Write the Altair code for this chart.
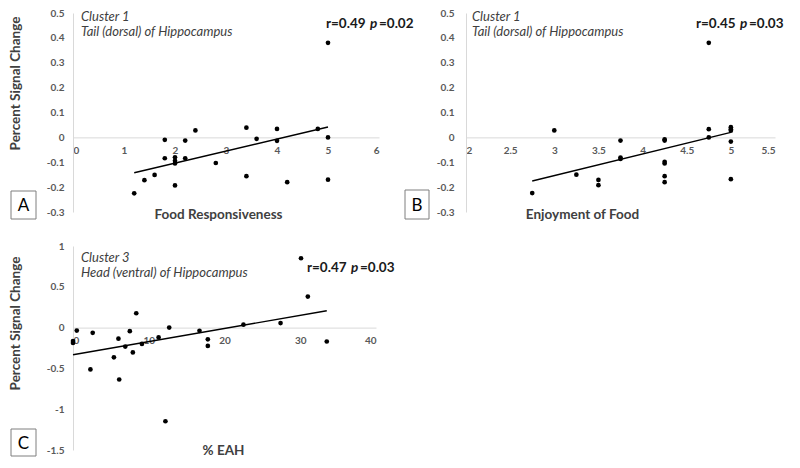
import altair as alt
import pandas as pd

# ---------------- data ----------------
food_resp = [5.0, 1.8, 2.2, 2.4, 3.4, 3.6, 4.0, 4.0, 4.8, 5.0, 1.8, 2.0, 2.0, 2.0, 2.2, 2.8, 1.4, 1.6, 1.2, 2.0, 3.4, 4.2, 5.0]
psc_a = [0.38, -0.01, -0.013, 0.028, 0.039, -0.006, 0.034, -0.014, 0.034, 0.0, -0.084, -0.08, -0.094, -0.105, -0.084, -0.103, -0.172, -0.151, -0.225, -0.193, -0.156, -0.18, -0.17]

enjoy_food = [4.75, 3.0, 4.75, 4.75, 5.0, 5.0, 5.0, 5.0, 3.75, 4.25, 4.25, 3.75, 3.75, 4.25, 4.25, 3.25, 3.5, 3.5, 4.25, 4.25, 2.75, 5.0]
psc_b = [0.38, 0.028, 0.033, 0.0, 0.041, 0.033, 0.027, -0.017, -0.013, -0.008, -0.013, -0.081, -0.087, -0.098, -0.105, -0.15, -0.171, -0.192, -0.156, -0.18, -0.224, -0.168]

eah = [30.1, 31.0, 33.5, 27.4, 22.5, 16.7, 17.8, 17.8, 12.7, 11.3, 9.1, 8.35, 7.9, 7.5, 6.9, 6.0, 5.4, 6.1, 2.3, 2.6, 0.5, 0.0, 0.0, 12.2]
psc_c = [0.85, 0.38, -0.17, 0.056, 0.036, -0.04, -0.144, -0.224, 0.0, -0.12, -0.2, 0.176, -0.304, -0.044, -0.232, -0.136, -0.364, -0.636, -0.512, -0.064, -0.036, -0.164, -0.188, -1.148]

ticks_a_x = [0, 1, 2, 3, 4, 5, 6]
ticks_b_x = [2, 2.5, 3, 3.5, 4, 4.5, 5, 5.5]
ticks_ab_y = [-0.3, -0.2, -0.1, 0, 0.1, 0.2, 0.3, 0.4, 0.5]
ticks_c_x = [0, 10, 20, 30, 40]
ticks_c_y = [-1.5, -1, -0.5, 0, 0.5, 1]

FONT = "Lato"
one = pd.DataFrame({"a": [0]})


def txt(text, x, y, size=13, weight="normal", style="normal", color="#404040", align="left"):
    return alt.Chart(one).mark_text(
        text=text, font=FONT, fontSize=size, fontWeight=weight, fontStyle=style,
        color=color, align=align, baseline="middle"
    ).encode(x=alt.value(x), y=alt.value(y))


def panel(xs, ys, xdom, xticks, ydom, yticks, w, h, xtitle, xtitle_x, xtitle_yabs,
          ytitle, ytitle_y, cluster_pos, cluster, region, rtxt, ptxt, rx, ry, letter, box):
    df = pd.DataFrame({"x": xs, "y": ys})
    off = -h * (0 - ydom[0]) / (ydom[1] - ydom[0])
    axis_y = h + off
    xaxis = alt.Axis(
        values=xticks, offset=off, ticks=False, grid=False, labelOverlap=False, zindex=0,
        labelExpr="'' + datum.value", labelPadding=8,
        title=xtitle, titleX=xtitle_x, titleY=xtitle_yabs - axis_y,
        titleAlign="center", titleBaseline="middle",
    )
    if ytitle:
        yaxis = alt.Axis(values=yticks, ticks=False, grid=False, labelOverlap=False,
                         labelExpr="'' + datum.value", labelPadding=9, title=ytitle,
                         titleX=-57.5, titleY=ytitle_y,
                         titleAlign="center", titleBaseline="middle", titleAngle=270)
    else:
        yaxis = alt.Axis(values=yticks, ticks=False, grid=False, labelOverlap=False,
                         labelExpr="'' + datum.value", labelPadding=12, title=None)
    xsc = alt.Scale(domain=xdom, nice=False, zero=False)
    ysc = alt.Scale(domain=ydom, nice=False, zero=False)
    base = alt.Chart(df)
    pts = base.mark_circle(size=22, color="black", opacity=1).encode(
        x=alt.X("x:Q", scale=xsc, axis=xaxis),
        y=alt.Y("y:Q", scale=ysc, axis=yaxis),
    )
    fit = base.transform_regression("x", "y").mark_line(color="black", strokeWidth=1.4).encode(
        x=alt.X("x:Q", scale=xsc, axis=xaxis), y=alt.Y("y:Q", scale=ysc, axis=yaxis)
    )
    bx0, bx1, by0, by1 = box
    rect = alt.Chart(one).mark_rect(fill="white", stroke="#7f7f7f", strokeWidth=1).encode(
        x=alt.value(bx0), x2=alt.value(bx1), y=alt.value(by0), y2=alt.value(by1)
    )
    lab = txt(letter, (bx0 + bx1) / 2, (by0 + by1) / 2 + 1, size=17, color="#000000", align="center")
    layers = [pts, fit,
              txt(cluster, cluster_pos[0], cluster_pos[1], style="italic"),
              txt(region, cluster_pos[0], cluster_pos[1] + 15, style="italic"),
              txt(rtxt, rx, ry, size=13.5, weight="bold", color="#1a1a1a"),
              txt("p", rx + 44, ry, size=13.5, weight="bold", style="italic", color="#1a1a1a"),
              txt(ptxt, rx + 53, ry, size=13.5, weight="bold", color="#1a1a1a"),
              rect, lab]
    return alt.layer(*layers).properties(width=w, height=h)


A = panel(food_resp, psc_a, [0, 6], ticks_a_x, [-0.3, 0.5], ticks_ab_y, 306, 199,
          "Food Responsiveness", 145, 201, "Percent Signal Change", 70, (8, 4),
          "Cluster 1", "Tail (dorsal) of Hippocampus", "r=0.49", "=0.02", 253, 11,
          "A", (-62, -37, 178, 206))
B = panel(enjoy_food, psc_b, [2, 5.5], ticks_b_x, [-0.3, 0.5], ticks_ab_y, 309, 199,
          "Enjoyment of Food", 116, 201, None, 0, (6, 4),
          "Cluster 1", "Tail (dorsal) of Hippocampus", "r=0.45", "=0.03", 230, 11,
          "B", (-61, -37, 177, 206))
C = panel(eah, psc_c, [0, 40], ticks_c_x, [-1.5, 1], ticks_c_y, 303, 204,
          "% EAH", 150, 204, "Percent Signal Change", 77, (8, 12),
          "Cluster 3", "Head (ventral) of Hippocampus", "r=0.47", "=0.03", 234, 22,
          "C", (-62, -37, 183, 210))

chart = alt.concat(
    A, B, C, columns=2, spacing={"row": 34, "column": 87}, bounds="flush"
).properties(
    padding={"left": 0, "top": 0, "right": 0, "bottom": 0}
).configure_view(stroke=None).configure_axis(
    domainColor="#d9d9d9", domainWidth=1, labelOverlap=False,
    labelFont=FONT, labelFontSize=10, labelFontWeight="bold", labelColor="#595959",
    titleFont=FONT, titleFontSize=13.5, titleFontWeight="bold", titleColor="#404040",
)

chart.save("out.html", embed_options={"renderer": "svg", "actions": False})
